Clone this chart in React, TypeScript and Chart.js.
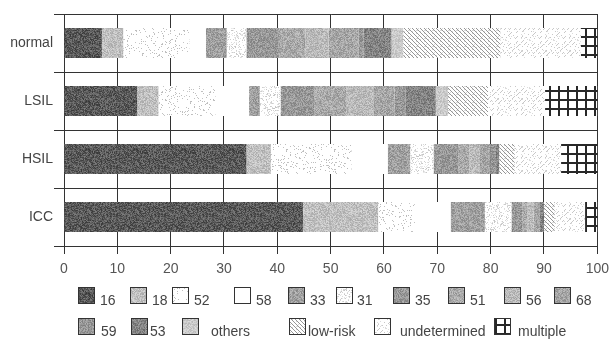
import React, { useEffect, useRef } from 'react';
import { Chart, registerables } from 'chart.js';

Chart.register(...registerables);

// ---------- data ----------
const categories = ['normal', 'LSIL', 'HSIL', 'ICC'];
const seriesNames = ['16', '18', '52', '58', '33', '31', '35', '51', '56', '68', '59', '53', 'others', 'low-risk', 'undetermined', 'multiple'];
const s16 = [7.1, 13.7, 34.2, 44.8];
const s18 = [4.0, 4.0, 4.6, 14.1];
const s52 = [12.4, 10.7, 15.1, 6.9];
const s58 = [3.1, 6.3, 6.8, 6.7];
const s33 = [3.9, 2.0, 4.2, 6.4];
const s31 = [3.7, 3.9, 4.4, 5.0];
const s35 = [6.1, 6.4, 4.7, 2.0];
const s51 = [5.0, 6.0, 2.0, 1.0];
const s56 = [4.3, 5.0, 2.0, 1.2];
const s68 = [5.6, 4.0, 2.0, 0.8];
const s59 = [1.0, 2.0, 1.0, 0.3];
const s53 = [5.2, 5.7, 0.6, 0.8];
const sOthers = [2.2, 2.3, 0.0, 0.0];
const sLowRisk = [18.2, 7.5, 2.9, 2.0];
const sUndetermined = [15.1, 10.7, 8.7, 5.7];
const sMultiple = [3.1, 9.8, 6.8, 2.3];
const seriesValues = [s16, s18, s52, s58, s33, s31, s35, s51, s56, s68, s59, s53, sOthers, sLowRisk, sUndetermined, sMultiple];
const xMin = 0;
const xMax = 100;
const xStep = 10;

// ---------- styles ----------
type Tex =
  | { kind: 'noise'; base: number; amp: number }
  | { kind: 'speckle'; density: number; dot: number }
  | { kind: 'white' }
  | { kind: 'hatch' }
  | { kind: 'undet' }
  | { kind: 'grid' };

const textures: Tex[] = [
  { kind: 'noise', base: 90, amp: 70 },
  { kind: 'noise', base: 192, amp: 50 },
  { kind: 'speckle', density: 0.1, dot: 185 },
  { kind: 'white' },
  { kind: 'noise', base: 160, amp: 55 },
  { kind: 'speckle', density: 0.28, dot: 195 },
  { kind: 'noise', base: 152, amp: 55 },
  { kind: 'noise', base: 170, amp: 55 },
  { kind: 'noise', base: 186, amp: 50 },
  { kind: 'noise', base: 166, amp: 55 },
  { kind: 'noise', base: 152, amp: 55 },
  { kind: 'noise', base: 132, amp: 60 },
  { kind: 'noise', base: 202, amp: 40 },
  { kind: 'hatch' },
  { kind: 'undet' },
  { kind: 'grid' },
];

// legend layout: [boxX, labelX, row]
const legendLayout: [number, number, number][] = [
  [78, 100, 0], [130, 152, 0], [172, 194, 0], [234, 256, 0], [288, 310, 0],
  [336, 357, 0], [393, 415, 0], [448, 470, 0], [504, 526, 0], [554, 576, 0],
  [78, 101, 1], [131, 150, 1], [182, 211, 1], [289, 308, 1], [374, 400, 1], [494, 518, 1],
];
const legendRowTop = [287, 318];
const legendBoxW = 17;
const legendBoxH = 17;
const FONT = '"Liberation Sans", Arial, sans-serif';

function hash(x: number, y: number, s: number) {
  let n = (Math.imul(x, 374761393) + Math.imul(y, 668265263) + Math.imul(s, 1442695041)) | 0;
  n = Math.imul(n ^ (n >>> 13), 1274126177);
  n = n ^ (n >>> 16);
  return ((n >>> 0) % 10000) / 10000;
}

function makePattern(ctx: CanvasRenderingContext2D, tex: Tex, seed: number): CanvasPattern | string {
  const size = tex.kind === 'grid' ? 9 : tex.kind === 'hatch' ? 8 : tex.kind === 'undet' ? 24 : 48;
  const c = document.createElement('canvas');
  c.width = size;
  c.height = size;
  const g = c.getContext('2d')!;
  const img = g.createImageData(size, size);
  for (let y = 0; y < size; y++) {
    for (let x = 0; x < size; x++) {
      let v = 255;
      const r = hash(x, y, seed);
      if (tex.kind === 'noise') {
        v = Math.round(tex.base + (r - 0.5) * tex.amp);
      } else if (tex.kind === 'speckle') {
        v = r < tex.density ? tex.dot + Math.round(r * 150) : 255;
      } else if (tex.kind === 'hatch') {
        v = ((x - y + 16) % 4 === 0) ? 150 : (r < 0.1 ? 215 : 255);
      } else if (tex.kind === 'undet') {
        v = ((x + y) % 5 === 0 && r < 0.55) ? 200 : (r < 0.06 ? 220 : 255);
      } else if (tex.kind === 'grid') {
        v = (x < 2 || y < 2) ? 40 : 255;
      }
      v = Math.max(0, Math.min(255, v));
      const i = (y * size + x) * 4;
      img.data[i] = v;
      img.data[i + 1] = v;
      img.data[i + 2] = v;
      img.data[i + 3] = 255;
    }
  }
  g.putImageData(img, 0, 0);
  return ctx.createPattern(c, 'repeat') || '#ccc';
}

export default function App() {
  const ref = useRef<HTMLCanvasElement | null>(null);

  useEffect(() => {
    const canvas = ref.current;
    if (!canvas) return;
    const ctx = canvas.getContext('2d')!;
    const fills = textures.map((t, i) => makePattern(ctx, t, i + 3));

    const legendPlugin = {
      id: 'customLegend',
      afterDraw(chart: any) {
        const c = chart.ctx as CanvasRenderingContext2D;
        c.save();
        c.font = `14px ${FONT}`;
        c.textBaseline = 'alphabetic';
        c.textAlign = 'left';
        seriesNames.forEach((name, i) => {
          const [bx, lx, row] = legendLayout[i];
          const top = legendRowTop[row];
          c.fillStyle = fills[i] as any;
          c.fillRect(bx, top, legendBoxW, legendBoxH);
          c.strokeStyle = '#333';
          c.lineWidth = 1;
          c.strokeRect(bx + 0.5, top + 0.5, legendBoxW - 1, legendBoxH - 1);
          c.fillStyle = '#444';
          c.fillText(name, lx, top + legendBoxH + 1);
        });
        c.restore();
      },
    };

    const chart = new Chart(canvas, {
      type: 'bar',
      data: {
        labels: categories,
        datasets: seriesNames.map((name, i) => ({
          label: name,
          data: seriesValues[i],
          backgroundColor: fills[i] as any,
          borderWidth: 0,
          barPercentage: 0.52,
          categoryPercentage: 1,
        })),
      },
      options: {
        indexAxis: 'y',
        responsive: false,
        animation: false,
        devicePixelRatio: 1,
        layout: { padding: { top: 14, right: 16, left: 0, bottom: 0 } },
        plugins: {
          legend: { display: false },
          tooltip: { enabled: false },
        },
        scales: {
          x: {
            type: 'linear',
            stacked: true,
            min: xMin,
            max: xMax,
            position: 'bottom',
            ticks: { stepSize: xStep, color: '#555', font: { family: FONT, size: 14 }, padding: 7 },
            grid: { color: '#333', lineWidth: 1, tickLength: 8, drawOnChartArea: true },
            border: { display: true, color: '#333', width: 1 },
            afterFit: (scale: any) => { scale.height = 113; },
          },
          y: {
            type: 'category',
            stacked: true,
            ticks: { color: '#444', font: { family: FONT, size: 14 }, padding: 1 },
            grid: { color: '#333', lineWidth: 1, tickLength: 10, offset: true },
            border: { display: true, color: '#333', width: 1 },
            afterFit: (scale: any) => { scale.width = 64; },
          },
        },
      },
      plugins: [legendPlugin],
    });
    return () => chart.destroy();
  }, []);

  return (
    <div style={{ position: 'fixed', left: 0, top: 0, width: 616, height: 359, background: '#fff' }}>
      <canvas ref={ref} width={616} height={359} style={{ display: 'block', width: 616, height: 359 }} />
    </div>
  );
}
